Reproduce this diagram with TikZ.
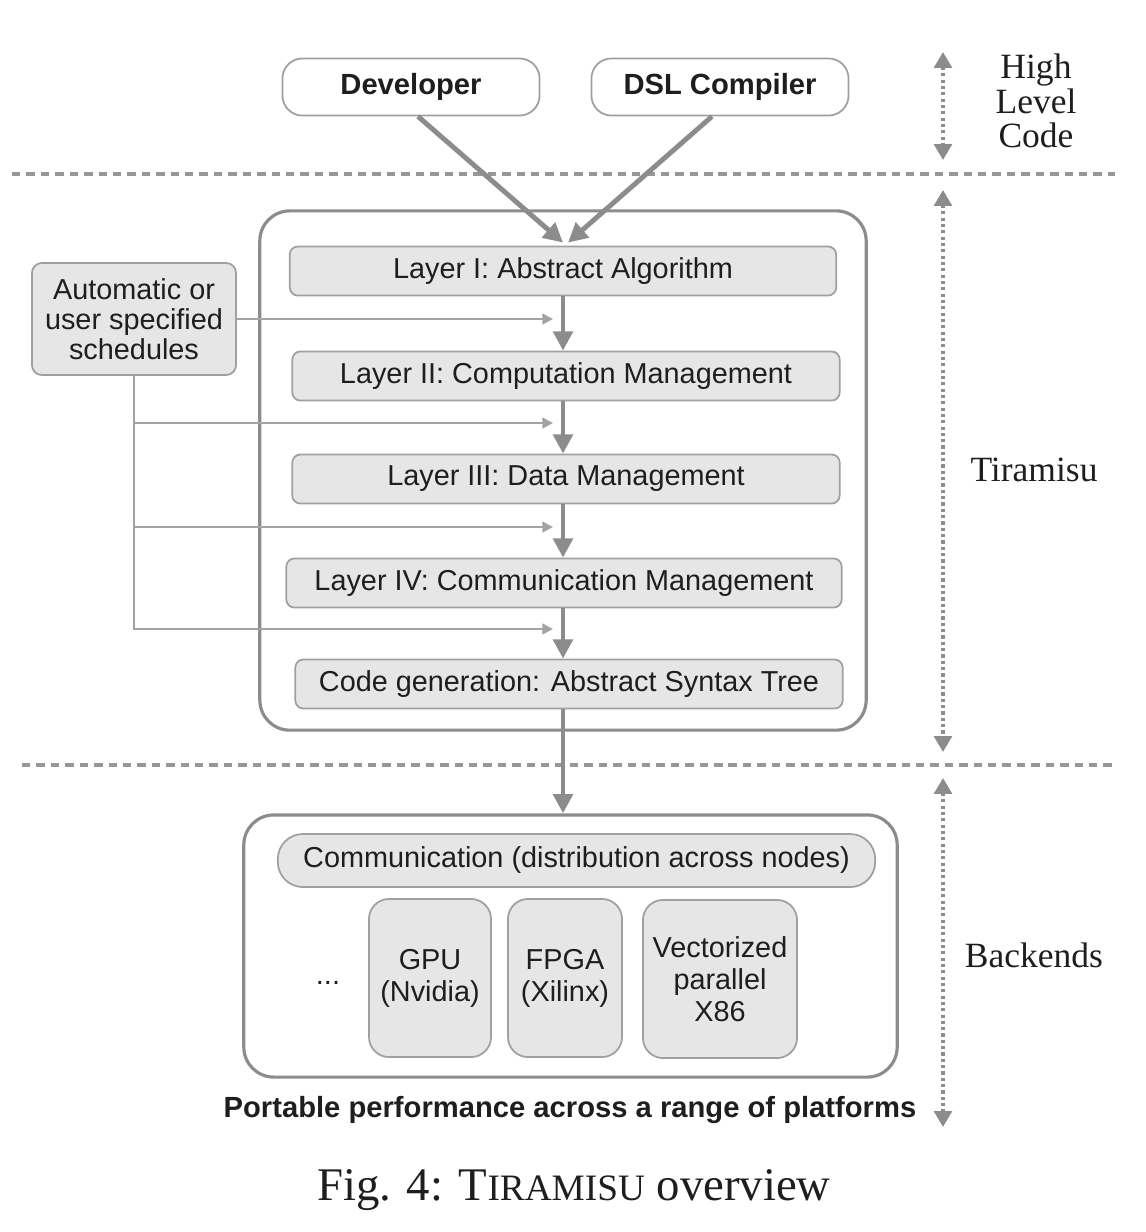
\documentclass[tikz,border=0pt]{standalone}
\usepackage{fontspec}
\setmainfont{Liberation Sans}
\newfontfamily\timesfont{Liberation Serif}
\usetikzlibrary{arrows.meta}

\definecolor{boxgray}{HTML}{E6E6E6}
\definecolor{linegray}{HTML}{8C8C8C}
\definecolor{edgegray}{HTML}{A0A0A0}
\definecolor{textdark}{HTML}{1E1E1E}

\tikzset{
  topbox/.style={draw=edgegray, line width=0.5pt, rounded corners=0.2cm, fill=white, minimum width=2.57cm, minimum height=0.57cm, inner sep=0pt, text=textdark, font=\fontsize{8.3}{9}\selectfont\bfseries},
  layer/.style={draw=edgegray, line width=0.5pt, fill=boxgray, rounded corners=0.08cm, minimum height=0.49cm, inner sep=0pt, text=textdark, font=\fontsize{8.2}{9}\selectfont},
  outerbox/.style={draw=linegray, line width=0.9pt, rounded corners=0.3cm, inner sep=0pt},
  hwbox/.style={layer, rounded corners=0.2cm, minimum height=1.58cm, align=center, font=\fontsize{8.2}{9.1}\selectfont},
  bigarrow/.style={draw=linegray, line width=1.4pt, -{Triangle[length=5.5pt,width=5.5pt]}},
  thinarrow/.style={draw=linegray!80, line width=0.7pt, -{Triangle[length=3pt,width=3pt]}},
  sidearrow/.style={draw=linegray, line width=1pt, dash pattern=on 0.9pt off 0.9pt, {Triangle[length=4.5pt,width=5pt]}-{Triangle[length=4.5pt,width=5pt]}},
  divider/.style={draw=linegray!90, line width=1pt, dash pattern=on 2.4pt off 1.7pt},
  sidelabel/.style={font=\fontsize{10.1}{9.9}\selectfont\timesfont, align=center, text=textdark}
}

\begin{document}
\begin{tikzpicture}[x=0.01cm, y=-0.01cm]
    \useasboundingbox (0,0) rectangle (1146,1232);

    % level dividers
    \draw[divider] (12,174) -- (1115,174);
    \draw[divider] (22,765) -- (1115,765);

    % high level code
    \node[topbox] (dev) at (411,87) {Developer};
    \node[topbox] (dsl) at (720,87) {DSL Compiler};

    % tiramisu layers
    \node[outerbox, minimum width=6.06cm, minimum height=5.19cm] (tira) at (563,470.5) {};
    \node[layer, minimum width=5.46cm] (l1) at (563,271) {Layer I: Abstract Algorithm};
    \node[layer, minimum width=5.47cm] (l2) at (566,376) {Layer II: Computation Management};
    \node[layer, minimum width=5.47cm] (l3) at (566,479) {Layer III: Data Management};
    \node[layer, minimum width=5.55cm] (l4) at (564,583) {Layer IV: Communication Management};
    \node[layer, minimum width=5.47cm] (cg) at (569,684) {Code generation: Abstract Syntax Tree};

    \draw[bigarrow] ([xshift=0.07cm]dev.south) -- ([yshift=0.03cm]l1.north);
    \draw[bigarrow] ([xshift=-0.08cm]dsl.south) -- ([xshift=0.05cm,yshift=0.03cm]l1.north);
    \foreach \a/\b in {l1/l2,l2/l3,l3/l4,l4/cg}
        \draw[bigarrow] (\a.south -| l1.south) -- (\b.north -| l1.south);

    % schedules
    \node[layer, rounded corners=0.1cm, minimum width=2.04cm, minimum height=1.12cm, align=center, font=\fontsize{8.2}{8.55}\selectfont] (sched) at (134,319) {Automatic or\\user specified\\schedules};
    \coordinate (in1) at (553,319);
    \coordinate (in2) at (553,423);
    \coordinate (in3) at (553,527);
    \coordinate (in4) at (553,629);
    \draw[thinarrow] (sched.east) -- (in1);
    \draw[thinarrow] (sched.south |- in2) -- (in2);
    \draw[thinarrow] (sched.south |- in3) -- (in3);
    \draw[thinarrow] (sched.south) -- (sched.south |- in4) -- (in4);

    % backends
    \node[outerbox, minimum width=6.53cm, minimum height=2.62cm] (back) at (570.5,946) {};
    \draw[bigarrow] (cg.south -| l1.south) -- (back.north -| l1.south);
    \node[layer, rounded corners=0.25cm, minimum width=5.97cm, minimum height=0.53cm] (comm) at (576.5,860.5) {Communication (distribution across nodes)};
    \node[hwbox, minimum width=1.22cm] (gpu) at (430,978) {GPU\\(Nvidia)};
    \node[hwbox, minimum width=1.14cm] (fpga) at (565,978) {FPGA\\(Xilinx)};
    \node[hwbox, minimum width=1.54cm] (x86) at (720,979) {Vectorized\\parallel\\X86};
    \node[text=textdark, font=\fontsize{8.2}{9}\selectfont] (more) at (328,983) {...};
    \node[text=textdark, font=\fontsize{8.3}{9}\selectfont\bfseries] (portable) at (570,1110) {Portable performance across a range of platforms};

    % side annotations
    \coordinate (hct) at (943,52);
    \coordinate (hcb) at (943,160);
    \coordinate (tit) at (943,190);
    \coordinate (tib) at (943,752);
    \coordinate (bat) at (943,778);
    \coordinate (bab) at (943,1127);
    \draw[sidearrow] (hct) -- (hcb);
    \draw[sidearrow] (tit) -- (tib);
    \draw[sidearrow] (bat) -- (bab);
    \node[sidelabel] (hlc) at (1036,101) {High\\Level\\Code};
    \node[sidelabel] (tiralabel) at (1034,470) {Tiramisu};
    \node[sidelabel] (backlabel) at (1034,955) {Backends};

    % caption
    \node[text=textdark, font=\fontsize{13.3}{15}\selectfont\timesfont] (cap) at (574,1190) {Fig. 4: T{\fontsize{10.6}{12}\selectfont IRAMISU} overview};
\end{tikzpicture}
\end{document}
